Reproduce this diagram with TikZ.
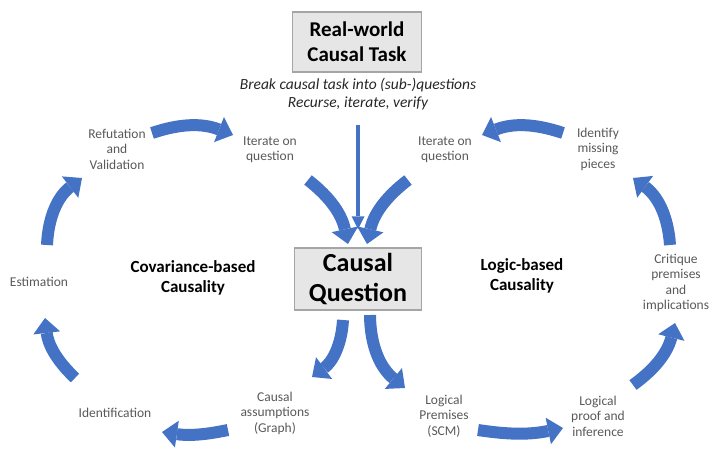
\documentclass[tikz,border=0pt]{standalone}
\usepackage{fontspec}
\setmainfont{Carlito}
\usetikzlibrary{arrows.meta}
\definecolor{flowblue}{HTML}{4472C4}
\definecolor{labelgray}{HTML}{595959}
\definecolor{boxgray}{HTML}{E7E6E6}
\definecolor{boxline}{HTML}{A5A5A5}
\tikzstyle{taskbox}=[draw=boxline, fill=boxgray, line width=1.5pt, align=center, minimum width=129pt, minimum height=60pt, inner sep=2pt]
\tikzstyle{label}=[align=center, text=labelgray, font=\fontsize{13.5}{15.5}\selectfont, inner sep=2pt]
\tikzstyle{school}=[align=center, font=\bfseries\fontsize{17}{20}\selectfont]
\tikzstyle{loop arrow}=[draw=flowblue, line width=12pt, -{Triangle[length=15pt, width=27pt, line width=0pt]}]
\tikzstyle{task arrow}=[draw=flowblue, line width=3.5pt, -{Triangle[length=13pt, width=13pt, line width=0pt]}]

\begin{document}
\begin{tikzpicture}[x=1pt, y=1pt]
    \useasboundingbox (0,0) rectangle (720,-460);
    % boxes
    \node [taskbox, font=\bfseries\fontsize{21}{25}\selectfont] (task) at (357,-42) {Real-world\\Causal Task};
    \node [align=center, text=black!85, font=\itshape\fontsize{15.5}{18}\selectfont, inner sep=1pt] (hint) at (358,-94) {Break causal task into (sub-)questions\\Recurse, iterate, verify};
    \node [taskbox, minimum width=127pt, minimum height=62pt, font=\bfseries\fontsize{26}{30}\selectfont] (cq) at (358,-279) {Causal\\Question};
    % two schools
    \node [school] (covar) at (193,-278) {Covariance-based\\Causality};
    \node [school] (logic) at (522,-276) {Logic-based\\Causality};
    % steps
    \node [label] (refute) at (117,-149) {Refutation\\and\\Validation};
    \node [label] (iterL) at (270,-150) {Iterate on\\question};
    \node [label] (estim) at (39,-282) {Estimation};
    \node [label] (ident) at (115,-413) {Identification};
    \node [label] (assume) at (275,-413) {Causal\\assumptions\\(Graph)};
    \node [label] (iterR) at (445,-150) {Iterate on\\question};
    \node [label] (missing) at (598,-149) {Identify\\missing\\pieces};
    \node [label] (critique) at (676,-283) {Critique\\premises\\and\\implications};
    \node [label] (premises) at (444,-416) {Logical\\Premises\\(SCM)};
    \node [label] (proof) at (598,-416) {Logical\\proof and\\inference};
    % arrow ends
    \coordinate (refute-out) at (152,-133);
    \coordinate (iterL-in) at (233,-135);
    \coordinate (iterL-out) at (308,-180);
    \coordinate (cq-inL) at (348,-244);
    \coordinate (iterR-out) at (408,-180);
    \coordinate (cq-inR) at (367,-244);
    \coordinate (cq-outL) at (343,-320);
    \coordinate (assume-in) at (312,-377);
    \coordinate (assume-out) at (228,-430);
    \coordinate (ident-in) at (162,-432);
    \coordinate (ident-out) at (75,-378);
    \coordinate (estim-in) at (45,-318);
    \coordinate (estim-out) at (47,-245);
    \coordinate (refute-in) at (82,-178);
    \coordinate (cq-outR) at (370,-315);
    \coordinate (premises-in) at (405,-388);
    \coordinate (premises-out) at (478,-430);
    \coordinate (proof-in) at (563,-428);
    \coordinate (proof-out) at (633,-385);
    \coordinate (critique-in) at (675,-323);
    \coordinate (critique-out) at (670,-245);
    \coordinate (missing-in) at (633,-178);
    \coordinate (missing-out) at (563,-133);
    \coordinate (iterR-in) at (482,-135);
    % the task feeds the question
    \draw [task arrow] ([yshift=-14pt]hint.south) -- ([yshift=18pt]cq.north);
    % left loop
    \draw [loop arrow] (iterL-out) to [bend left=20] (cq-inL);
    \draw [loop arrow] (cq-outL) to [bend left=25] (assume-in);
    \draw [loop arrow] (assume-out) to [bend left=10] (ident-in);
    \draw [loop arrow] (ident-out) to [bend left=20] (estim-in);
    \draw [loop arrow] (estim-out) to [bend left=25] (refute-in);
    \draw [loop arrow] (refute-out) to [bend left=20] (iterL-in);
    % right loop
    \draw [loop arrow] (iterR-out) to [bend right=20] (cq-inR);
    \draw [loop arrow] (cq-outR) to [bend right=25] (premises-in);
    \draw [loop arrow] (premises-out) to [bend right=10] (proof-in);
    \draw [loop arrow] (proof-out) to [bend right=20] (critique-in);
    \draw [loop arrow] (critique-out) to [bend right=25] (missing-in);
    \draw [loop arrow] (missing-out) to [bend right=20] (iterR-in);
\end{tikzpicture}
\end{document}
